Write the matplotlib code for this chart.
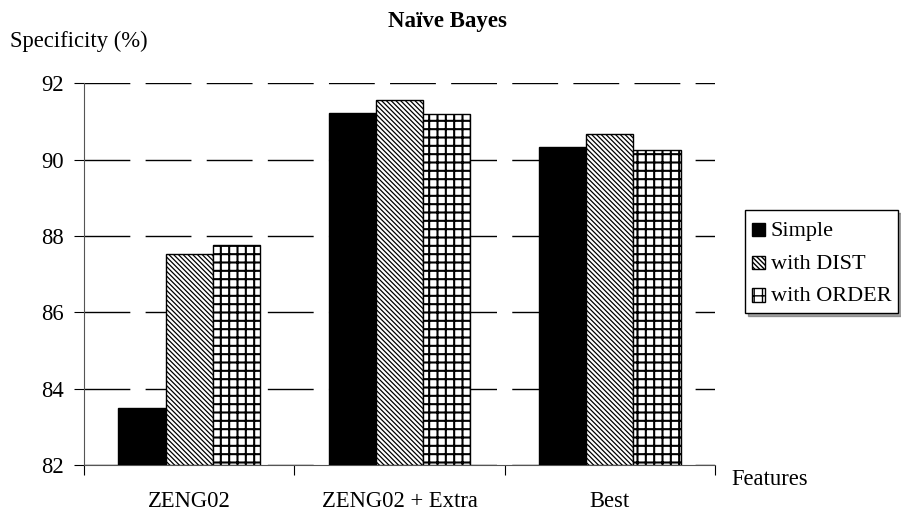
import numpy as np
import matplotlib
matplotlib.use("Agg")
import matplotlib.pyplot as plt
import matplotlib.patches as mpatches
from matplotlib.container import BarContainer
from matplotlib.legend_handler import HandlerPatch, update_from_first_child

plt.rcParams['font.family'] = ['Liberation Serif', 'DejaVu Serif']

categories = ["ZENG02", "ZENG02 + Extra", "Best"]
series = ["Simple", "with DIST", "with ORDER"]
simple = [83.5, 91.22, 90.32]
with_dist = [87.52, 91.55, 90.67]
with_order = [87.76, 91.2, 90.24]

fig = plt.figure(figsize=(9.01, 5.16), dpi=100)
ax = fig.add_axes([0.0932, 0.0988, 0.7004, 0.7398])

x = np.arange(len(categories))
w = 0.224
# colour, hatch, hatch line width
styles = [("black", None, 1.0),
          ("white", "\\" * 7, 0.9),
          ("white", "++", 1.5)]
for i, (vals, st) in enumerate(zip([simple, with_dist, with_order], styles)):
    with plt.rc_context({"hatch.linewidth": st[2]}):
        ax.bar(x + (i - 1) * w, np.array(vals) - 82, bottom=82, width=w,
               color=st[0], edgecolor="black", linewidth=1.0,
               hatch=st[1], label=series[i], zorder=3)

ax.set_xlim(-0.5, 2.5)
ax.set_ylim(82, 92)
ax.set_yticks([82, 84, 86, 88, 90, 92])
ax.set_xticks([-0.5, 0.5, 1.5, 2.5])
ax.set_xticklabels([])
ax.set_xticks(x, minor=True)
ax.set_xticklabels(categories, minor=True)
ax.tick_params(axis="x", which="major", direction="out", length=7)
ax.tick_params(axis="x", which="minor", length=0, pad=18.4, labelsize=16.3)
ax.tick_params(axis="y", direction="out", length=7, pad=7.5, labelsize=16.3)

for s in ["top", "right"]:
    ax.spines[s].set_visible(False)
ax.spines["left"].set_color("#555555")
ax.spines["bottom"].set_color("#555555")

ax.yaxis.grid(True, color="black", linewidth=1.0, linestyle=(0, (33, 11)))
ax.set_axisbelow(True)

fig.text(0.497, 0.958, "Naïve Bayes", ha="center", va="center",
         fontsize=16.5, fontweight="bold")
fig.text(0.011, 1 - 46.7 / 516, "Specificity (%)", ha="left", va="baseline",
         fontsize=16.3)
fig.text(731 / 901, 1 - 485 / 516, "Features", ha="left", va="baseline",
         fontsize=16.3)


def small_square(legend, orig_handle, xdescent, ydescent, width, height, fontsize):
    s = 0.6 * fontsize
    return mpatches.Rectangle((-xdescent, -ydescent + (height - s) / 2 - 1), s, s)


leg = ax.legend(loc="upper left", bbox_to_anchor=(0.827, 0.593),
                bbox_transform=fig.transFigure, fontsize=16,
                handlelength=0.6, handleheight=1.25, handletextpad=0.25,
                borderaxespad=0, borderpad=0.3, labelspacing=0.38,
                fancybox=False, edgecolor="black", framealpha=1,
                shadow=True,
                handler_map={BarContainer: HandlerPatch(
                    patch_func=small_square, update_func=update_from_first_child)})
leg.get_frame().set_linewidth(1.0)

fig.savefig("out.png", dpi=100)
